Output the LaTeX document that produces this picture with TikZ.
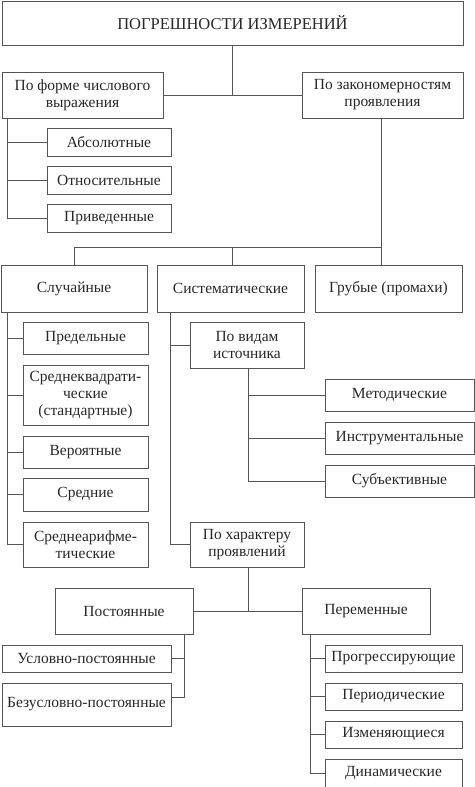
\documentclass[tikz,border=0pt]{standalone}
\usepackage{fontspec}
\setmainfont{Liberation Serif}
\begin{document}
\begin{tikzpicture}[x=1pt,y=-1pt,
  box/.style={draw=linec, line width=1pt, fill=white, text=textc, align=center,
    inner sep=1pt, font=\fontsize{15.5}{17}\selectfont},
  con/.style={draw=linec, line width=1pt}]
\definecolor{linec}{RGB}{85,85,85}
\definecolor{textc}{RGB}{40,40,40}
\useasboundingbox (0,0) rectangle (474,787);
% top level
\node[box, minimum width=461, minimum height=44, font=\fontsize{16.5}{18}\selectfont] (top) at (232.5,23) {ПОГРЕШНОСТИ ИЗМЕРЕНИЙ};
\node[box, minimum width=161, minimum height=46] (f1) at (82.5,95) {По форме числового\\выражения};
\node[box, minimum width=161, minimum height=46] (f2) at (382.5,95) {По закономерностям\\проявления};
% form
\node[box, minimum width=124, minimum height=28] (a1) at (109,142) {Абсолютные};
\node[box, minimum width=124, minimum height=28] (a2) at (109,180.5) {Относительные};
\node[box, minimum width=124, minimum height=28] (a3) at (109,218) {Приведенные};
% row 3
\node[box, minimum width=146, minimum height=47] (r1) at (74,288.5) {Случайные};
\node[box, minimum width=147, minimum height=47] (r2) at (230.5,288.5) {Систематические};
\node[box, minimum width=147, minimum height=47] (r3) at (388.5,288.5) {Грубые (промахи)};
% random
\node[box, minimum width=125, minimum height=32] (s1) at (85.5,338) {Предельные};
\node[box, minimum width=125, minimum height=60] (s2) at (85.5,395) {Среднеквадрати-\\ческие\\(стандартные)};
\node[box, minimum width=125, minimum height=32] (s3) at (85.5,452) {Вероятные};
\node[box, minimum width=125, minimum height=33] (s4) at (85.5,494.5) {Средние};
\node[box, minimum width=125, minimum height=45] (s5) at (85.5,544.5) {Среднеарифме-\\тические};
% systematic
\node[box, minimum width=114, minimum height=46] (p1) at (247,345) {По видам\\источника};
\node[box, minimum width=114, minimum height=45] (p2) at (247,544.5) {По характеру\\проявлений};
\node[box, minimum width=149, minimum height=32] (m1) at (399.5,395) {Методические};
\node[box, minimum width=149, minimum height=32] (m2) at (399.5,438) {Инструментальные};
\node[box, minimum width=149, minimum height=32] (m3) at (399.5,481) {Субъективные};
% character
\node[box, minimum width=138, minimum height=46] (c1) at (124,611) {Постоянные};
\node[box, minimum width=128, minimum height=46] (c2) at (366,611) {Переменные};
\node[box, minimum width=169, minimum height=27] (u1) at (86.5,658.5) {Условно-постоянные};
\node[box, minimum width=169, minimum height=43] (u2) at (86.5,704.5) {Безусловно-постоянные};
\node[box, minimum width=137, minimum height=27] (v1) at (393.5,658.5) {Прогрессирующие};
\node[box, minimum width=137, minimum height=27] (v2) at (393.5,696.5) {Периодические};
\node[box, minimum width=137, minimum height=27] (v3) at (393.5,734.5) {Изменяющиеся};
\node[box, minimum width=137, minimum height=28] (v4) at (393.5,773) {Динамические};
% connectors
\coordinate (j1) at (top.south |- f1.east);
\draw[con] (top.south) -- (j1);
\draw[con] (f1.east) -- (f2.west);
\coordinate (b1) at ([xshift=6pt]f1.south west);
\draw[con] (b1) |- (a3.west);
\foreach \n in {a1,a2} \draw[con] (\n.west) -- (\n.west -| b1);
\coordinate (b2) at ([xshift=-1.5pt]f2.south);
\coordinate (h2) at (b2 |- 0,247);
\draw[con] (b2) -- (b2 |- r3.north);
\draw[con] (h2) -- (r1.north |- h2) -- (r1.north);
\draw[con] ([xshift=1.5pt]r2.north |- h2) -- ([xshift=1.5pt]r2.north);
% random bracket
\coordinate (b3) at ([xshift=7pt]r1.south west);
\draw[con] (b3) |- (s5.west);
\foreach \n in {s1,s2,s3,s4} \draw[con] (\n.west) -- (\n.west -| b3);
% systematic bracket
\coordinate (b4) at ([xshift=14pt]r2.south west);
\draw[con] (b4) |- (p2.west);
\draw[con] (p1.west) -- (p1.west -| b4);
\coordinate (b5) at ([xshift=1pt]p1.south);
\draw[con] (b5) |- (m3.west);
\foreach \n in {m1,m2} \draw[con] (\n.west) -- (\n.west -| b5);
% character
\coordinate (b6) at ([xshift=1pt]p2.south);
\draw[con] (b6) -- (b6 |- c1.east);
\draw[con] (c1.east) -- (c2.west);
\coordinate (b7) at ([xshift=-9pt]c1.south east);
\draw[con] (b7) |- ([yshift=7.5pt]u2.east);
\draw[con] (u1.east) -- (u1.east -| b7);
\coordinate (b8) at ([xshift=9pt]c2.south west);
\draw[con] (b8) |- (v4.west);
\foreach \n in {v1,v2,v3} \draw[con] (\n.west) -- (\n.west -| b8);
\end{tikzpicture}
\end{document}
